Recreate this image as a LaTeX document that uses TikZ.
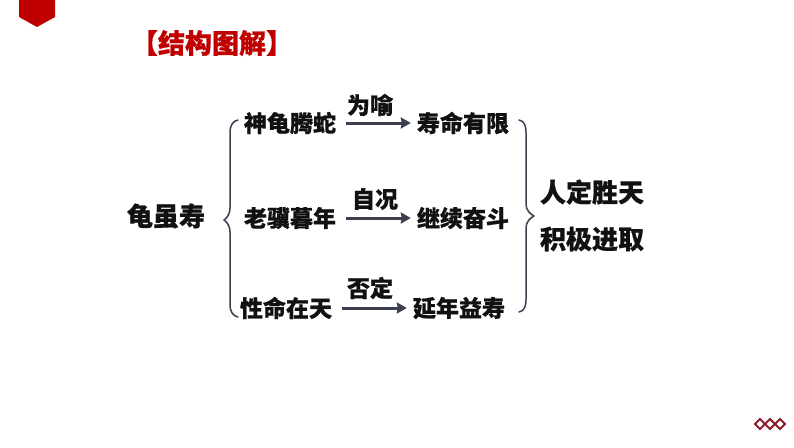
\documentclass[tikz,border=0pt]{standalone}
\usepackage{xcolor}
\usepackage{fontspec}
\usepackage{tikz}
\usetikzlibrary{arrows.meta}
\newfontfamily\cjk[BoldFeatures={FakeBold=0.6}]{Noto Sans CJK SC}
\definecolor{titlered}{HTML}{C00000}
\definecolor{darkred}{HTML}{8E1B2B}
\definecolor{arrowgray}{HTML}{3B3F50}
\definecolor{textblack}{HTML}{111111}
\tikzset{
  item/.style={inner sep=0pt, text=textblack, font=\cjk\bfseries\fontsize{23}{25}\selectfont},
  bigitem/.style={inner sep=0pt, text=textblack, font=\cjk\bfseries\fontsize{26}{28}\selectfont},
  link/.style={draw=arrowgray, line width=3pt, -{Stealth[length=10pt,width=11pt,inset=1pt]}, shorten <=10pt, shorten >=6pt},
  bracket/.style={draw=arrowgray, line width=1.5pt, line cap=round},
  mark box/.style={draw=darkred, line width=1.8pt, line join=miter}
}
\begin{document}
\begin{tikzpicture}[x=1pt, y=-1pt, line join=round]
  \useasboundingbox (0,0) rectangle (794,447);
  \fill[white] (0,0) rectangle (794,447);

  % Corner tag and title
  \fill[titlered] (19,0) -- (55,0) -- (55,17) -- (37,27) -- (19,17) -- cycle;
  \node[inner sep=0pt, text=titlered, font=\cjk\bfseries\fontsize{27}{29}\selectfont] (title) at (212,43) {【结构图解】};

  % Left side
  \node[bigitem] (gui) at (166,216) {龟虽寿};
  \node[item] (shen) at (290,123) {神龟腾蛇};
  \node[item] (lao) at (290,218) {老骥暮年};
  \node[item] (xing) at (286,308) {性命在天};

  % Right side
  \node[item] (shou) at (463,123) {寿命有限};
  \node[item] (jixu) at (463,218) {继续奋斗};
  \node[item] (yan) at (459,308) {延年益寿};
  \node[bigitem] (ren) at (592,192) {人定胜天};
  \node[bigitem] (ji) at (592,239) {积极进取};

  % Arrows with their words
  \draw[link, yshift=-2pt] (shen.east) -- (shou.west);
  \draw[link, yshift=-1pt] (lao.east) -- (jixu.west);
  \draw[link] (xing.east) -- (yan.west);
  \node[item] (weiyu) at (370,105) {为喻};
  \node[item] (zikuang) at (375,199) {自况};
  \node[item] (fouding) at (370,288) {否定};

  % Braces
  \draw[bracket] (238,120) .. controls (233,121) and (230,125) .. (230,133)
    -- (230,208) .. controls (230,214) and (227,218) .. (224,220)
    .. controls (227,222) and (230,226) .. (230,232)
    -- (230,304) .. controls (230,312) and (233,316) .. (238,317);
  \draw[bracket] (519,120) .. controls (524,121) and (526,125) .. (526,133)
    -- (526,204) .. controls (526,210) and (530,214) .. (534,216)
    .. controls (530,218) and (526,222) .. (526,228)
    -- (526,299) .. controls (526,307) and (524,311) .. (519,312);

  % Small diamonds bottom right
  \foreach \px in {760,770,780}
    \draw[mark box] (\px-5,424) -- (\px,419) -- (\px+5,424) -- (\px,429) -- cycle;

\end{tikzpicture}
\end{document}
